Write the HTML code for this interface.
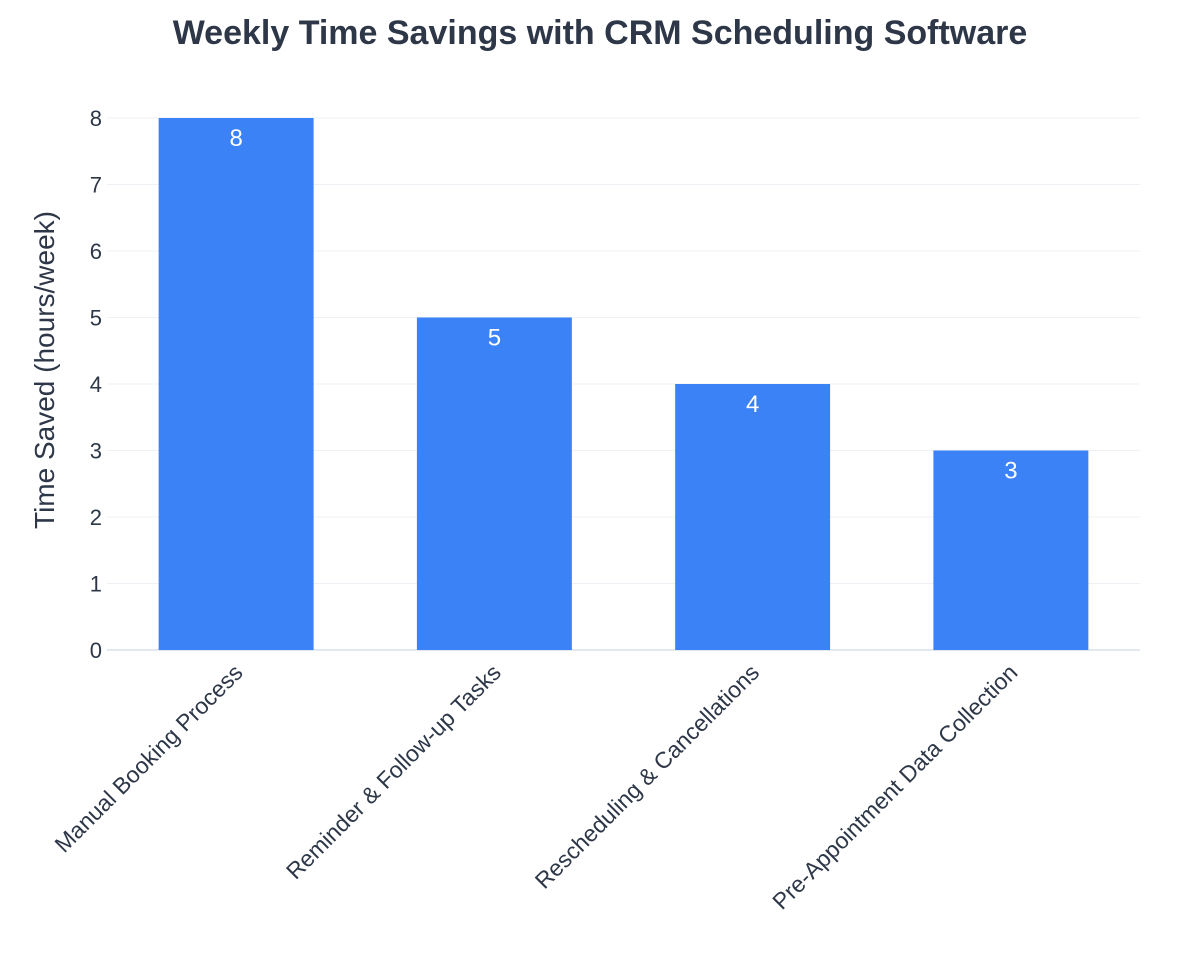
<!DOCTYPE html>
<html><head><meta charset="utf-8">
<style>
html,body{margin:0;padding:0;background:#fff;}
svg{display:block;font-family:"Liberation Sans",Arial,sans-serif;}
</style></head>
<body>
<svg id="chart" width="1200" height="975" viewBox="0 0 1200 975" xmlns="http://www.w3.org/2000/svg">
<rect width="1200" height="975" fill="#ffffff"/>
<text x="600" y="44" text-anchor="middle" font-size="34" font-weight="bold" fill="#2d3748">Weekly Time Savings with CRM Scheduling Software</text>
<text transform="translate(54,370) rotate(-90)" text-anchor="middle" font-size="28" fill="#2d3748">Time Saved (hours/week)</text>
<g id="grid"></g><g id="bars"></g><g id="labels"></g>
</svg>
<script>
const categories = ["Manual Booking Process","Reminder & Follow-up Tasks","Rescheduling & Cancellations","Pre-Appointment Data Collection"];
const values = [8,5,4,3];
const yTicks = [0,1,2,3,4,5,6,7,8];

const NS="http://www.w3.org/2000/svg";
const x0=107,x1=1140,yBase=650,yTop=118,yMax=8;
const y=v=>yBase-(v/yMax)*(yBase-yTop);
const step=(x1-x0)/categories.length;
const xc=i=>x0+step*(i+0.5);
const bw=step*0.6;
function mk(tag,attrs,parent){const e=document.createElementNS(NS,tag);for(const k in attrs)e.setAttribute(k,attrs[k]);parent.appendChild(e);return e;}
const grid=document.getElementById('grid'),bars=document.getElementById('bars'),labels=document.getElementById('labels');
yTicks.forEach(t=>{
  const l=mk('line',{x1:x0,x2:x1,y1:y(t),y2:y(t),stroke:t===0?'#e2e8f0':'#edf0f4','stroke-width':t===0?2:1},grid);
  
  
  const tx=mk('text',{x:102,y:y(t)+8,'text-anchor':'end','font-size':22,fill:'#2d3748'},grid);
  tx.textContent=t;
  
  
});
categories.forEach((c,i)=>{
  const r=mk('rect',{x:xc(i)-bw/2,y:y(values[i]),width:bw,height:yBase-y(values[i]),fill:'#3b82f6'},bars);
  
  
  const v=mk('text',{x:xc(i),y:y(values[i])+28,'text-anchor':'middle','font-size':24,fill:'#ffffff'},labels);
  v.textContent=values[i];
  
  
  const xl=mk('text',{transform:`translate(${xc(i)+8},${yBase+24}) rotate(-45)`,'text-anchor':'end','font-size':23,fill:'#2d3748'},labels);
  xl.textContent=c;
  
  
});
</script>
</body></html>
